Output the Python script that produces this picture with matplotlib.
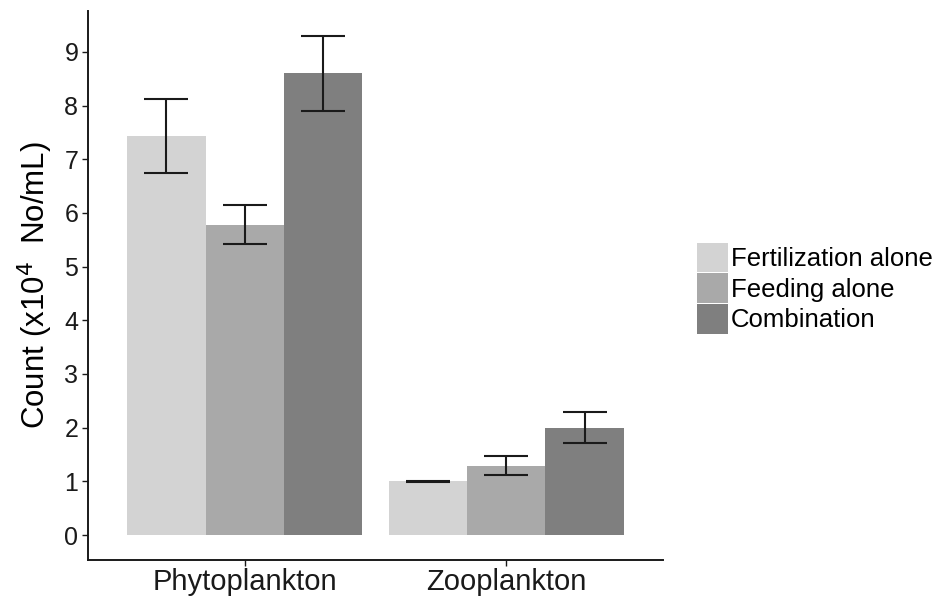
import numpy as np
import matplotlib
matplotlib.use('Agg')
import matplotlib.pyplot as plt

plt.rcParams['font.family'] = ['Liberation Sans', 'DejaVu Sans']

# data
groups = ['Phytoplankton', 'Zooplankton']
treatments = ['Fertilization alone', 'Feeding alone', 'Combination']
means = {
    'Fertilization alone': [7.44, 1.00],
    'Feeding alone': [5.77, 1.28],
    'Combination': [8.60, 2.00],
}
lower = {
    'Fertilization alone': [6.75, 0.99],
    'Feeding alone': [5.42, 1.11],
    'Combination': [7.90, 1.71],
}
upper = {
    'Fertilization alone': [8.12, 1.01],
    'Feeding alone': [6.14, 1.47],
    'Combination': [9.30, 2.30],
}
colors = ['#D3D3D3', '#A9A9A9', '#7F7F7F']

fig = plt.figure(figsize=(9.41, 5.98), dpi=100)
ax = fig.add_axes([0.0935, 0.0635, 0.611, 0.918])

x = np.arange(1, len(groups) + 1)
w = 0.3
for i, t in enumerate(treatments):
    pos = x + (i - 1) * w
    m = np.array(means[t])
    lo = m - np.array(lower[t])
    hi = np.array(upper[t]) - m
    ax.bar(pos, m, width=w, color=colors[i], label=t, zorder=1)
    ax.errorbar(pos, m, yerr=[lo, hi], fmt='none', ecolor='#1a1a1a',
                elinewidth=1.5, capsize=15.5, capthick=1.5, zorder=2)

ax.set_xlim(0.4, 2.6)
ax.set_ylim(-0.465, 9.76)
ax.set_xticks(x)
ax.set_xticklabels(groups)
ax.set_yticks(range(0, 10))
ax.tick_params(axis='both', colors='#1a1a1a', length=4, width=1, pad=3)
ax.tick_params(axis='y', labelsize=18)
ax.tick_params(axis='x', labelsize=21, pad=2)
for s in ['top', 'right']:
    ax.spines[s].set_visible(False)
for s in ['left', 'bottom']:
    ax.spines[s].set_linewidth(1.4)
    ax.spines[s].set_color('#1a1a1a')

ax.set_ylabel('Count (x10$^{4}$  No/mL)', fontsize=22.5, labelpad=7)

fig.legend(loc='center left', bbox_to_anchor=(0.7405, 0.518), frameon=False,
           fontsize=18.5, handlelength=1.2, handleheight=1.4,
           labelspacing=0.04, handletextpad=0.12, borderpad=0,
           borderaxespad=0)

fig.savefig('out.png', dpi=100)
